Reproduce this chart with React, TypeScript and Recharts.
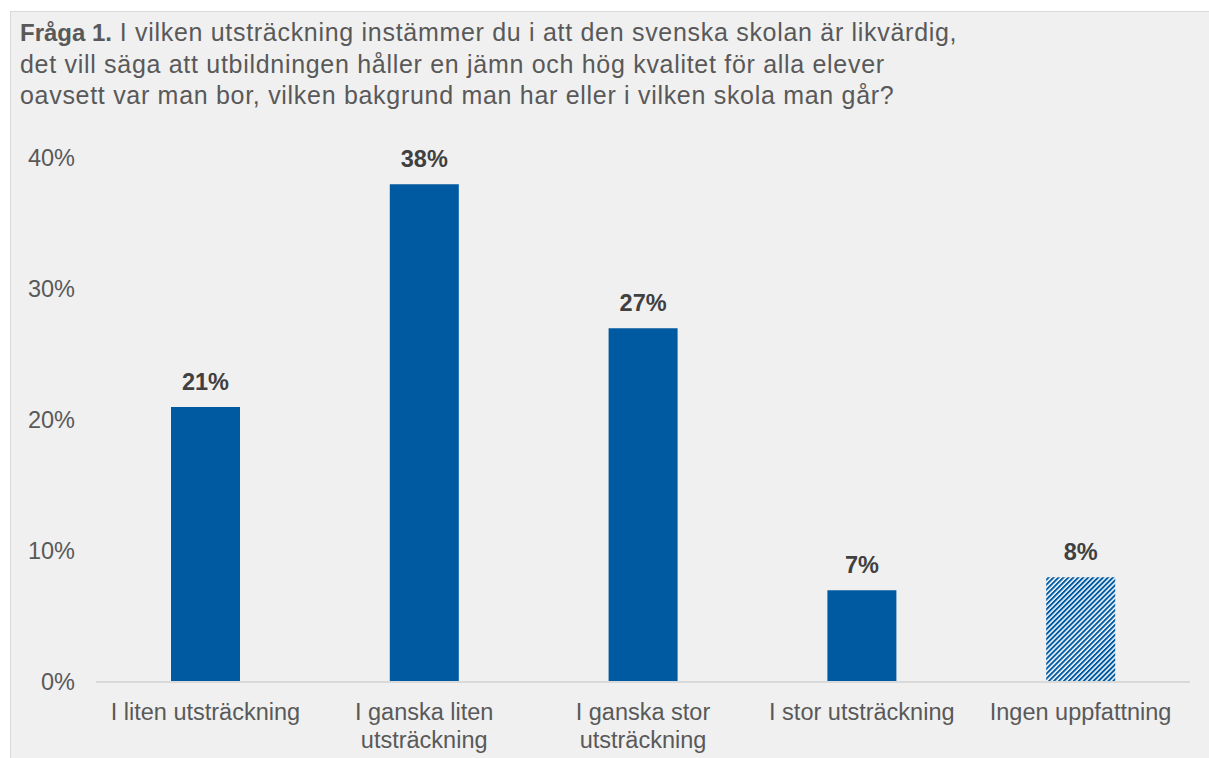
import { Bar, BarChart, Cell, LabelList, XAxis, YAxis } from 'recharts'

/* Fråga 1 — likvärdig skola, andel svar per alternativ. Sista stapeln randig. */

const categories = [
  'I liten utsträckning',
  'I ganska liten\nutsträckning',
  'I ganska stor\nutsträckning',
  'I stor utsträckning',
  'Ingen uppfattning',
]
const shares = [0.21, 0.38, 0.27, 0.07, 0.08]
const hatched = [false, false, false, false, true]
const yTicks = [0, 0.1, 0.2, 0.3, 0.4]

const titleBold = 'Fråga 1.'
const titleLines = [
  ' I vilken utsträckning instämmer du i att den svenska skolan är likvärdig,',
  'det vill säga att utbildningen håller en jämn och hög kvalitet för alla elever',
  'oavsett var man bor, vilken bakgrund man har eller i vilken skola man går?',
]

const FONT = "'Liberation Sans', Arial, sans-serif"
const BLUE = '#005aa2'
const GREY_TEXT = '#595959'
const FS = 23.5

const data = categories.map((c, i) => ({ name: c, value: shares[i], hatched: hatched[i] }))
const pct = (v: unknown) => `${Math.round(Number(v) * 100)}%`

function CategoryTick({ x, y, payload }: { x?: number; y?: number; payload?: { value: string } }) {
  const lines = String(payload?.value ?? '').split('\n')
  return (
    <text x={x} y={(y ?? 0) + 38} textAnchor="middle" fill={GREY_TEXT} fontSize={FS} fontFamily={FONT}>
      {lines.map((l, i) => (
        <tspan key={i} x={x} dy={i === 0 ? 0 : 28}>{l}</tspan>
      ))}
    </text>
  )
}

export default function App() {
  const spaced = { letterSpacing: '0.7px' }
  return (
    <div style={{ position: 'fixed', inset: 0, background: '#fff', overflow: 'hidden', fontFamily: FONT }}>
      <div style={{
        position: 'absolute', left: 10, top: 11, width: 1300, height: 800,
        background: '#f0f0f0', borderLeft: '1px solid #d9d9d9', borderTop: '1px solid #d9d9d9',
      }} />
      <div style={{
        position: 'absolute', left: 20, top: 17, fontSize: 25, lineHeight: '31.5px',
        color: GREY_TEXT, whiteSpace: 'nowrap',
      }}>
        <b style={{ fontSize: 24 }}>{titleBold}</b><span style={spaced}>{titleLines[0]}</span><br />
        <span style={spaced}>{titleLines[1]}</span><br />
        <span style={spaced}>{titleLines[2]}</span>
      </div>
      <div style={{ position: 'absolute', left: 10, top: 11 }}>
        <BarChart
          width={1199}
          height={747}
          data={data}
          margin={{ top: 147, right: 19, left: 0, bottom: 16 }}
          style={{ fontFamily: FONT }}
        >
          <defs>
            <pattern id="hatch" width="3.5" height="3.5" patternUnits="userSpaceOnUse" patternTransform="rotate(45)">
              <rect width="3.5" height="3.5" fill="#ffffff" />
              <rect width="2" height="3.5" fill={BLUE} />
            </pattern>
          </defs>
          <XAxis
            dataKey="name"
            height={60}
            interval={0}
            tickLine={false}
            tickSize={0}
            tickMargin={0}
            axisLine={{ stroke: '#d9d9d9', strokeWidth: 2 }}
            tick={<CategoryTick />}
          />
          <YAxis
            width={86}
            domain={[0, 0.4]}
            ticks={yTicks}
            tickFormatter={pct}
            axisLine={false}
            tickLine={false}
            tickSize={6}
            tickMargin={15}
            tick={{ fill: GREY_TEXT, fontSize: FS, fontFamily: FONT }}
          />
          <Bar dataKey="value" barSize={69} isAnimationActive={false}>
            {data.map((d, i) => (
              <Cell key={i} fill={d.hatched ? 'url(#hatch)' : BLUE} />
            ))}
            <LabelList
              dataKey="value"
              position="top"
              offset={17}
              formatter={pct}
              style={{ fill: '#404040', fontWeight: 'bold', fontSize: FS, fontFamily: FONT }}
            />
          </Bar>
        </BarChart>
      </div>
    </div>
  )
}
